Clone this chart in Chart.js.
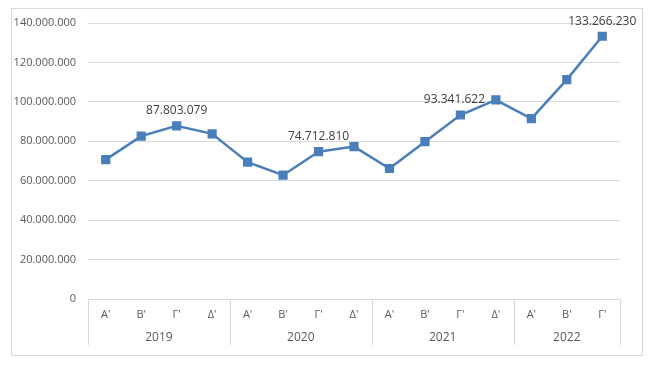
<!DOCTYPE html>
<html lang="el">
<head>
  <meta charset="UTF-8">
  <title>Τριμηνιαία εξέλιξη</title>
  <script src="https://cdn.jsdelivr.net/npm/chart.js@4.4.2/dist/chart.umd.min.js"></script>
  <style>
    body { margin: 0; background: #fff; }
    .wrap { width: 651px; height: 365px; position: relative; }
  </style>
</head>
<body>
<div class="wrap">
  <canvas id="myChart" width="651" height="365"></canvas>
</div>
<script>
const quarters = ["Α'", "Β'", "Γ'", "Δ'", "Α'", "Β'", "Γ'", "Δ'", "Α'", "Β'", "Γ'", "Δ'", "Α'", "Β'", "Γ'"];
const years = ['2019', '2020', '2021', '2022'];
const yearSpan = [4, 4, 4, 3];
const values = [70700000, 82600000, 87803079, 83800000, 69400000, 62800000, 74712810, 77300000,
                66200000, 79800000, 93341622, 101000000, 91500000, 111300000, 133266230];
const labelled = [2, 6, 10, 14];
const yTicks = [0, 20000000, 40000000, 60000000, 80000000, 100000000, 120000000, 140000000];

const blue = '#4a7ebb';
const grey = '#d9d9d9';
const txt = '#595959';
const font = '"Open Sans", sans-serif';

function fmt(v) {
  return String(Math.round(v)).replace(/\B(?=(\d{3})+(?!\d))/g, '.');
}

// frame, two level x axis and value labels
const extras = {
  id: 'extras',
  beforeDraw(chart) {
    const c = chart.ctx;
    c.save();
    c.fillStyle = '#fff';
    c.fillRect(0, 0, chart.width, chart.height);
    c.strokeStyle = grey;
    c.lineWidth = 1;
    c.strokeRect(11.5, 8.5, 631, 347);
    c.restore();
  },
  afterDatasetsDraw(chart) {
    const c = chart.ctx;
    const x = chart.scales.x;
    const area = chart.chartArea;
    const step = x.getPixelForValue(1) - x.getPixelForValue(0);
    c.save();
    // separators
    c.strokeStyle = grey;
    c.lineWidth = 1;
    let idx = 0;
    const bounds = [0];
    yearSpan.forEach(n => { idx += n; bounds.push(idx); });
    bounds.forEach(b => {
      const px = Math.round(x.getPixelForValue(b) - step / 2) + 0.5;
      c.beginPath();
      c.moveTo(px, area.bottom);
      c.lineTo(px, area.bottom + 46);
      c.stroke();
    });
    // quarter labels
    c.fillStyle = txt;
    c.textAlign = 'center';
    c.textBaseline = 'middle';
    c.font = '11px ' + font;
    quarters.forEach((q, i) => c.fillText(q, x.getPixelForValue(i), area.bottom + 16));
    // year labels
    c.font = '12px ' + font;
    let start = 0;
    years.forEach((y, i) => {
      const a = x.getPixelForValue(start) - step / 2;
      const b = x.getPixelForValue(start + yearSpan[i] - 1) + step / 2;
      c.fillText(y, (a + b) / 2, area.bottom + 39);
      start += yearSpan[i];
    });
    // data labels
    const meta = chart.getDatasetMeta(0);
    c.fillStyle = '#404040';
    c.font = '12px ' + font;
    labelled.forEach(i => {
      const p = meta.data[i];
      c.fillText(fmt(values[i]), p.x - (i === 10 ? 6 : 0), p.y - 15);
    });
    c.restore();
  }
};

new Chart(document.getElementById('myChart'), {
  type: 'line',
  data: {
    labels: quarters,
    datasets: [{
      data: values,
      borderColor: blue,
      backgroundColor: blue,
      borderWidth: 2.5,
      pointStyle: 'rect',
      pointRadius: 6.5,
      pointBorderWidth: 0,
      pointBackgroundColor: blue,
      tension: 0,
      fill: false
    }]
  },
  options: {
    responsive: false,
    animation: false,
    layout: { padding: { left: 10, right: 31, top: 23, bottom: 66 } },
    plugins: { legend: { display: false }, tooltip: { enabled: false } },
    scales: {
      x: { display: false, offset: true },
      y: {
        min: 0,
        max: 140000000,
        afterFit: s => { s.width = 78; },
        afterBuildTicks: s => { s.ticks = yTicks.map(v => ({ value: v })); },
        border: { display: false },
        grid: { color: grey, lineWidth: 1, drawTicks: false },
        ticks: {
          padding: 12,
          color: txt,
          font: { family: '"Open Sans", sans-serif', size: 11 },
          callback: v => fmt(v)
        }
      }
    }
  },
  plugins: [extras]
});
</script>
</body>
</html>
